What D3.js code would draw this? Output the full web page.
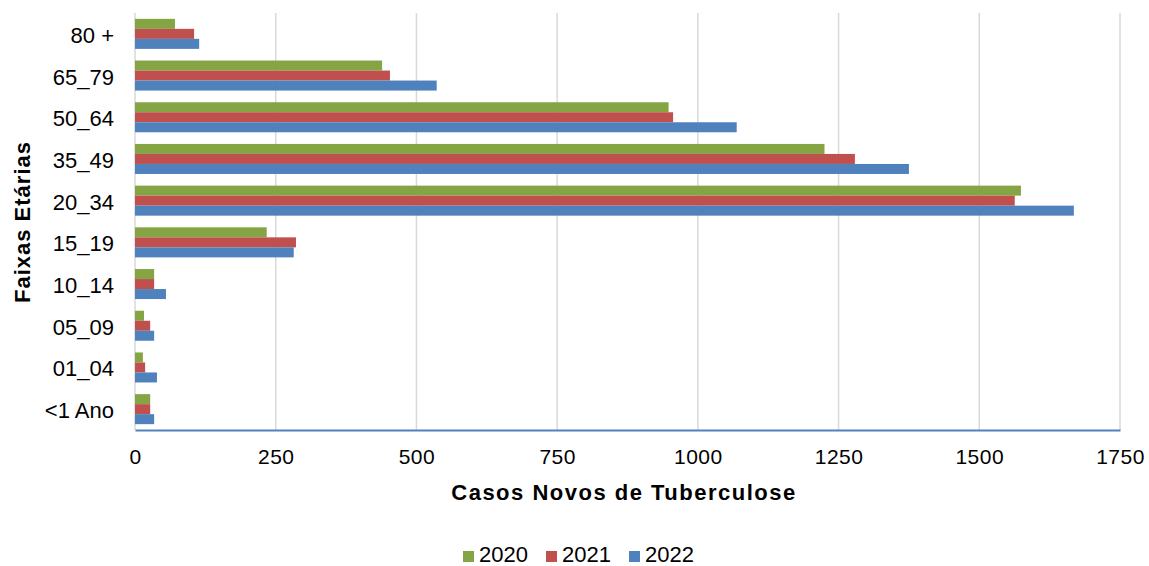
<!DOCTYPE html>
<html>
<head>
<meta charset="utf-8">
<script src="https://cdn.jsdelivr.net/npm/d3@7"></script>
<style>
  body { margin: 0; background: #fff; }
  text { font-family: "Liberation Sans", Arial, sans-serif; fill: #000; }
</style>
</head>
<body>
<div id="wrapper"></div>
<script>
// faixas etárias, de baixo para cima
const faixas = ["<1 Ano", "01_04", "05_09", "10_14", "15_19", "20_34", "35_49", "50_64", "65_79", "80 +"];
const anos = ["2020", "2021", "2022"];
const casos2020 = [27, 14, 16, 34, 234, 1574, 1225, 948, 439, 71];
const casos2021 = [27, 18, 27, 34, 286, 1563, 1279, 956, 453, 105];
const casos2022 = [34, 39, 34, 55, 282, 1668, 1375, 1069, 536, 114];
const ticksX = [0, 250, 500, 750, 1000, 1250, 1500, 1750];
const cores = ["#85A545", "#C0504D", "#4F81BD"];

function build() {
    const series = [casos2020, casos2021, casos2022];
    const data = [];
    faixas.forEach((f, i) => {
        anos.forEach((a, j) => {
            data.push({faixa: f, ano: a, valor: series[j][i]});
        });
    });

    const dimension = {
        width: 1149,
        height: 566,
        margin: {top: 13, right: 29, bottom: 136, left: 135}
    };
    dimension.boundedWidth = dimension.width - dimension.margin.left - dimension.margin.right;
    dimension.boundedHeight = dimension.height - dimension.margin.top - dimension.margin.bottom;

    const wrapper = d3.select("#wrapper")
        .append("svg")
        .attr("width", dimension.width)
        .attr("height", dimension.height);

    const bounds = wrapper.append("g")
        .attr("transform", `translate(${dimension.margin.left},${dimension.margin.top})`);

    const x = d3.scaleLinear()
        .domain([0, 1750])
        .range([0, dimension.boundedWidth]);

    // primeira faixa embaixo
    const y = d3.scaleBand()
        .domain(faixas.slice().reverse())
        .range([0, dimension.boundedHeight])
        .paddingInner(0.28)
        .paddingOuter(0.14);

    const y1 = d3.scaleBand()
        .domain(anos)
        .range([0, y.bandwidth()]);

    const color = d3.scaleOrdinal().domain(anos).range(cores);

    // grid
    bounds.append("g")
        .selectAll("line")
        .data(ticksX)
        .enter()
        .append("line")
        .attr("x1", d => x(d))
        .attr("x2", d => x(d))
        .attr("y1", 0)
        .attr("y2", dimension.boundedHeight)
        .style("stroke", "#D9D9D9")
        .style("stroke-width", 1.5);

    bounds.append("g")
        .selectAll("rect")
        .data(data)
        .enter()
        .append("rect")
        .attr("x", x(0))
        .attr("y", d => y(d.faixa) + y1(d.ano))
        .attr("width", d => x(d.valor) - x(0))
        .attr("height", y1.bandwidth())
        .style("fill", d => color(d.ano));

    // eixo x
    const xAxis = bounds.append("g")
        .attr("transform", `translate(0,${dimension.boundedHeight})`)
        .call(d3.axisBottom(x).tickValues(ticksX).tickFormat(d3.format("d")).tickSize(0).tickPadding(19));
    xAxis.select(".domain").style("stroke", "#4F81BD").style("stroke-width", 2);
    xAxis.selectAll("text")
        .style("font-size", "21px")
        .style("letter-spacing", "0.5px")
        .style("font-family", "Liberation Sans, Arial, sans-serif");

    // eixo y
    const yAxis = bounds.append("g")
        .attr("transform", "translate(0,2)")
        .call(d3.axisLeft(y).tickSize(0).tickPadding(21));
    yAxis.select(".domain").remove();
    yAxis.selectAll("text")
        .style("font-size", "22px")
        .style("font-family", "Liberation Sans, Arial, sans-serif");

    // títulos
    wrapper.append("text")
        .attr("x", 624)
        .attr("y", 500)
        .attr("text-anchor", "middle")
        .style("font-size", "22px")
        .style("letter-spacing", "1.5px")
        .style("font-weight", "bold")
        .text("Casos Novos de Tuberculose");

    wrapper.append("text")
        .attr("transform", `translate(30,222) rotate(-90)`)
        .attr("text-anchor", "middle")
        .style("font-size", "22px")
        .style("letter-spacing", "1px")
        .style("font-weight", "bold")
        .text("Faixas Etárias");

    // legenda
    const legend = wrapper.append("g")
        .attr("transform", "translate(463,551)");
    const item = legend.selectAll("g")
        .data(anos)
        .enter()
        .append("g")
        .attr("transform", (d, i) => `translate(${i * 83},0)`);
    item.append("rect")
        .attr("width", 11)
        .attr("height", 11)
        .style("fill", d => color(d));
    item.append("text")
        .attr("x", 16)
        .attr("y", 11)
        .style("font-size", "22px")
        .text(d => d);
}

build();
</script>
</body>
</html>
